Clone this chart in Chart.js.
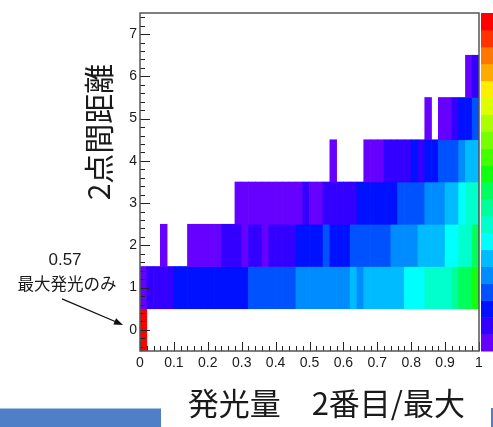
<!DOCTYPE html>
<html>
<head>
<meta charset="utf-8">
<script src="https://cdn.jsdelivr.net/npm/chart.js@4.4.1/dist/chart.umd.min.js"></script>
<style>
  html, body { margin: 0; padding: 0; background: #fff; }
  #wrap { position: relative; width: 493px; height: 427px; overflow: hidden; }
  #hist { position: absolute; left: 0; top: 0; }
  .slide { position: absolute; background: #4f7fc6; }
  #slideLeft { left: 0; top: 408px; width: 161px; height: 19px; border-top: 1px solid #a9c0e6; box-sizing: border-box; }
  #slideRight { left: 491px; top: 408px; width: 2px; height: 19px; }
</style>
</head>
<body>
<div id="wrap">
  <canvas id="hist" width="493" height="427"></canvas>
  <div class="slide" id="slideLeft"></div>
  <div class="slide" id="slideRight"></div>
</div>
<script>
// 2D histogram: x = second brightest / brightest (50 bins of 0.02), y = distance between the 2 points
const binWidth = 0.02;
const xTicks = [0, 0.1, 0.2, 0.3, 0.4, 0.5, 0.6, 0.7, 0.8, 0.9, 1];
const yTicks = [0, 1, 2, 3, 4, 5, 6, 7];
const distances = [0, 1, 2, 3, 4, 5, 6];

// bin contents per distance row, 0 = empty bin
const dist0 = [0.57, 0, 0, 0, 0, 0, 0, 0, 0, 0, 0, 0, 0, 0, 0, 0, 0, 0, 0, 0, 0, 0, 0, 0, 0,
               0, 0, 0, 0, 0, 0, 0, 0, 0, 0, 0, 0, 0, 0, 0, 0, 0, 0, 0, 0, 0, 0, 0, 0, 0];
const dist1 = [0.02, 0.05, 0.05, 0.05, 0.05, 0.08, 0.08, 0.08, 0.08, 0.08, 0.08, 0.08, 0.08, 0.08, 0.08, 0.08, 0.11, 0.11, 0.11, 0.11, 0.11, 0.11, 0.11, 0.14, 0.14,
               0.14, 0.14, 0.14, 0.14, 0.14, 0.14, 0.17, 0.14, 0.17, 0.17, 0.17, 0.17, 0.17, 0.17, 0.20, 0.20, 0.20, 0.23, 0.23, 0.23, 0.23, 0.26, 0.29, 0.29, 0.32];
const dist2 = [0, 0, 0, 0.02, 0, 0, 0, 0.02, 0.02, 0.02, 0.02, 0.02, 0.05, 0.05, 0.05, 0.02, 0.05, 0.05, 0.02, 0.05, 0.05, 0.05, 0.05, 0.08, 0.08,
               0.08, 0.08, 0.11, 0.08, 0.08, 0.08, 0.11, 0.11, 0.11, 0.11, 0.11, 0.11, 0.14, 0.14, 0.14, 0.14, 0.17, 0.17, 0.17, 0.17, 0.20, 0.20, 0.23, 0.23, 0.29];
const dist3 = [0, 0, 0, 0, 0, 0, 0, 0, 0, 0, 0, 0, 0, 0, 0.02, 0.02, 0.02, 0.02, 0.02, 0.02, 0.02, 0.02, 0.02, 0.02, 0.05,
               0.02, 0.02, 0.05, 0.05, 0.05, 0.05, 0.05, 0.08, 0.08, 0.08, 0.08, 0.08, 0.08, 0.11, 0.11, 0.11, 0.11, 0.14, 0.14, 0.14, 0.17, 0.17, 0.20, 0.23, 0.23];
const dist4 = [0, 0, 0, 0, 0, 0, 0, 0, 0, 0, 0, 0, 0, 0, 0, 0, 0, 0, 0, 0, 0, 0, 0, 0, 0,
               0, 0, 0, 0.02, 0, 0, 0, 0, 0.02, 0.02, 0.02, 0.05, 0.05, 0.05, 0.05, 0.08, 0.05, 0.08, 0.08, 0.11, 0.11, 0.11, 0.14, 0.17, 0.17];
const dist5 = [0, 0, 0, 0, 0, 0, 0, 0, 0, 0, 0, 0, 0, 0, 0, 0, 0, 0, 0, 0, 0, 0, 0, 0, 0,
               0, 0, 0, 0, 0, 0, 0, 0, 0, 0, 0, 0, 0, 0, 0, 0, 0, 0.02, 0, 0.02, 0.02, 0.05, 0.08, 0.08, 0.11];
const dist6 = [0, 0, 0, 0, 0, 0, 0, 0, 0, 0, 0, 0, 0, 0, 0, 0, 0, 0, 0, 0, 0, 0, 0, 0, 0,
               0, 0, 0, 0, 0, 0, 0, 0, 0, 0, 0, 0, 0, 0, 0, 0, 0, 0, 0, 0, 0, 0, 0, 0.02, 0.05];

// ROOT-like rainbow, low -> high
const palette = [
  "#6600ff", "#3300ff", "#0011ff", "#0052ff", "#008cff", "#00bbff", "#00ffff", "#00ffcc", "#00ff99", "#00ff5a",
  "#11ff11", "#44ff00", "#77ff00", "#aaff00", "#ddff00", "#ffee00", "#ffaa00", "#ff7700", "#ff3300", "#ff0000"
];
const zMax = 0.6;

function colorFor(v) {
  const i = Math.floor((v / zMax) * palette.length + 1e-9);
  return palette[Math.max(0, Math.min(palette.length - 1, i))];
}

const rows = [dist0, dist1, dist2, dist3, dist4, dist5, dist6];
const cells = [];
rows.forEach((vals, r) => {
  vals.forEach((v, i) => {
    if (v > 0) {
      cells.push({
        x: +(binWidth * (i + 0.5)).toFixed(3),
        y: [distances[r] - 0.5, distances[r] + 0.5],
        z: v
      });
    }
  });
});

const CJK = '"Noto Sans CJK JP", "Noto Sans", sans-serif';

// frame, inner ticks, colour bar, titles and the note
const histDecor = {
  id: "histDecor",
  afterDraw(chart) {
    const { ctx, chartArea: a, scales: { x, y, z } } = chart;
    ctx.save();

    // colour bar
    palette.forEach((col, i) => {
      const top = z.getPixelForValue(((i + 1) * zMax) / palette.length);
      const bot = z.getPixelForValue((i * zMax) / palette.length);
      ctx.fillStyle = col;
      ctx.fillRect(a.right + 2, top, chart.width - a.right - 2, bot - top + 0.5);
    });

    // ticks drawn inside the frame
    ctx.strokeStyle = "#222";
    ctx.lineWidth = 1;
    ctx.beginPath();
    xTicks.forEach((v, i) => {
      const px = Math.round(x.getPixelForValue(v)) + 0.5;
      ctx.moveTo(px, a.bottom);
      ctx.lineTo(px, a.bottom - 9);
      if (i < xTicks.length - 1) {
        const step = (xTicks[i + 1] - v) / 5;
        for (let k = 1; k < 5; k++) {
          const mx = Math.round(x.getPixelForValue(v + k * step)) + 0.5;
          ctx.moveTo(mx, a.bottom);
          ctx.lineTo(mx, a.bottom - 5);
        }
      }
    });
    for (let k = -2; k <= 37; k++) {
      const py = Math.round(y.getPixelForValue(k / 5)) + 0.5;
      ctx.moveTo(a.left, py);
      ctx.lineTo(a.left + (k % 5 === 0 ? 10 : 5), py);
    }
    ctx.stroke();

    // frame
    ctx.strokeStyle = "#555";
    ctx.lineWidth = 1.5;
    ctx.strokeRect(a.left, a.top, a.right - a.left, a.bottom - a.top);

    // axis titles
    ctx.fillStyle = "#1a1a1a";
    ctx.font = "31px " + CJK;
    ctx.textBaseline = "middle";
    ctx.textAlign = "right";
    ctx.fillText("発光量\u30002番目/最大", a.right - 14, 403);

    ctx.save();
    ctx.font = "30px " + CJK;
    ctx.translate(99, 132);
    ctx.rotate(-Math.PI / 2);
    ctx.textAlign = "center";
    ctx.fillText("2点間距離", 0, 0);
    ctx.restore();

    // note pointing at the single-emission bin
    const ox = x.getPixelForValue(0);
    const oy = y.getPixelForValue(0);
    ctx.textAlign = "center";
    ctx.font = '17px "Liberation Sans", Arial, sans-serif';
    ctx.fillText("0.57", ox - 75, oy - 70);
    ctx.font = "16.5px " + CJK;
    ctx.fillText("最大発光のみ", ox - 73, oy - 46);

    const tx = ox - 78, ty = oy - 31, hx = ox - 17, hy = oy - 5;
    const ang = Math.atan2(hy - ty, hx - tx);
    ctx.strokeStyle = "#111";
    ctx.lineWidth = 1.3;
    ctx.beginPath();
    ctx.moveTo(tx, ty);
    ctx.lineTo(hx - 6 * Math.cos(ang), hy - 6 * Math.sin(ang));
    ctx.stroke();
    ctx.fillStyle = "#111";
    ctx.beginPath();
    ctx.moveTo(hx, hy);
    ctx.lineTo(hx - 9 * Math.cos(ang) + 3.5 * Math.sin(ang), hy - 9 * Math.sin(ang) - 3.5 * Math.cos(ang));
    ctx.lineTo(hx - 9 * Math.cos(ang) - 3.5 * Math.sin(ang), hy - 9 * Math.sin(ang) + 3.5 * Math.cos(ang));
    ctx.closePath();
    ctx.fill();

    ctx.restore();
  }
};

Chart.defaults.font.family = '"Liberation Sans", Arial, sans-serif';
Chart.defaults.font.size = 14;
Chart.defaults.color = "#1a1a1a";

new Chart(document.getElementById("hist"), {
  type: "bar",
  data: {
    datasets: [
      {
        data: cells,
        backgroundColor: (c) => (c.raw ? colorFor(c.raw.z) : "#fff"),
        borderWidth: 0,
        barPercentage: 1,
        categoryPercentage: 1
      }
    ]
  },
  options: {
    responsive: false,
    animation: false,
    layout: { padding: { left: 0, right: 14, top: 13, bottom: 0 } },
    plugins: { legend: { display: false }, tooltip: { enabled: false } },
    scales: {
      x: {
        type: "linear",
        min: 0,
        max: 1,
        offset: false,
        afterBuildTicks: (s) => { s.ticks = xTicks.map((v) => ({ value: v })); },
        afterFit: (s) => { s.height = 76; },
        grid: { display: false, drawTicks: false },
        border: { display: false },
        ticks: { autoSkip: false, maxRotation: 0, padding: 4, callback: (v) => String(v) }
      },
      y: {
        type: "linear",
        min: -0.5,
        max: 7.5,
        afterBuildTicks: (s) => { s.ticks = yTicks.map((v) => ({ value: v })); },
        afterFit: (s) => { s.width = 140; },
        grid: { display: false, drawTicks: false },
        border: { display: false },
        ticks: { padding: 3, callback: (v) => String(v) }
      },
      z: {
        type: "linear",
        position: "right",
        min: 0,
        max: zMax,
        display: false
      }
    }
  },
  plugins: [histDecor]
});
</script>
</body>
</html>
